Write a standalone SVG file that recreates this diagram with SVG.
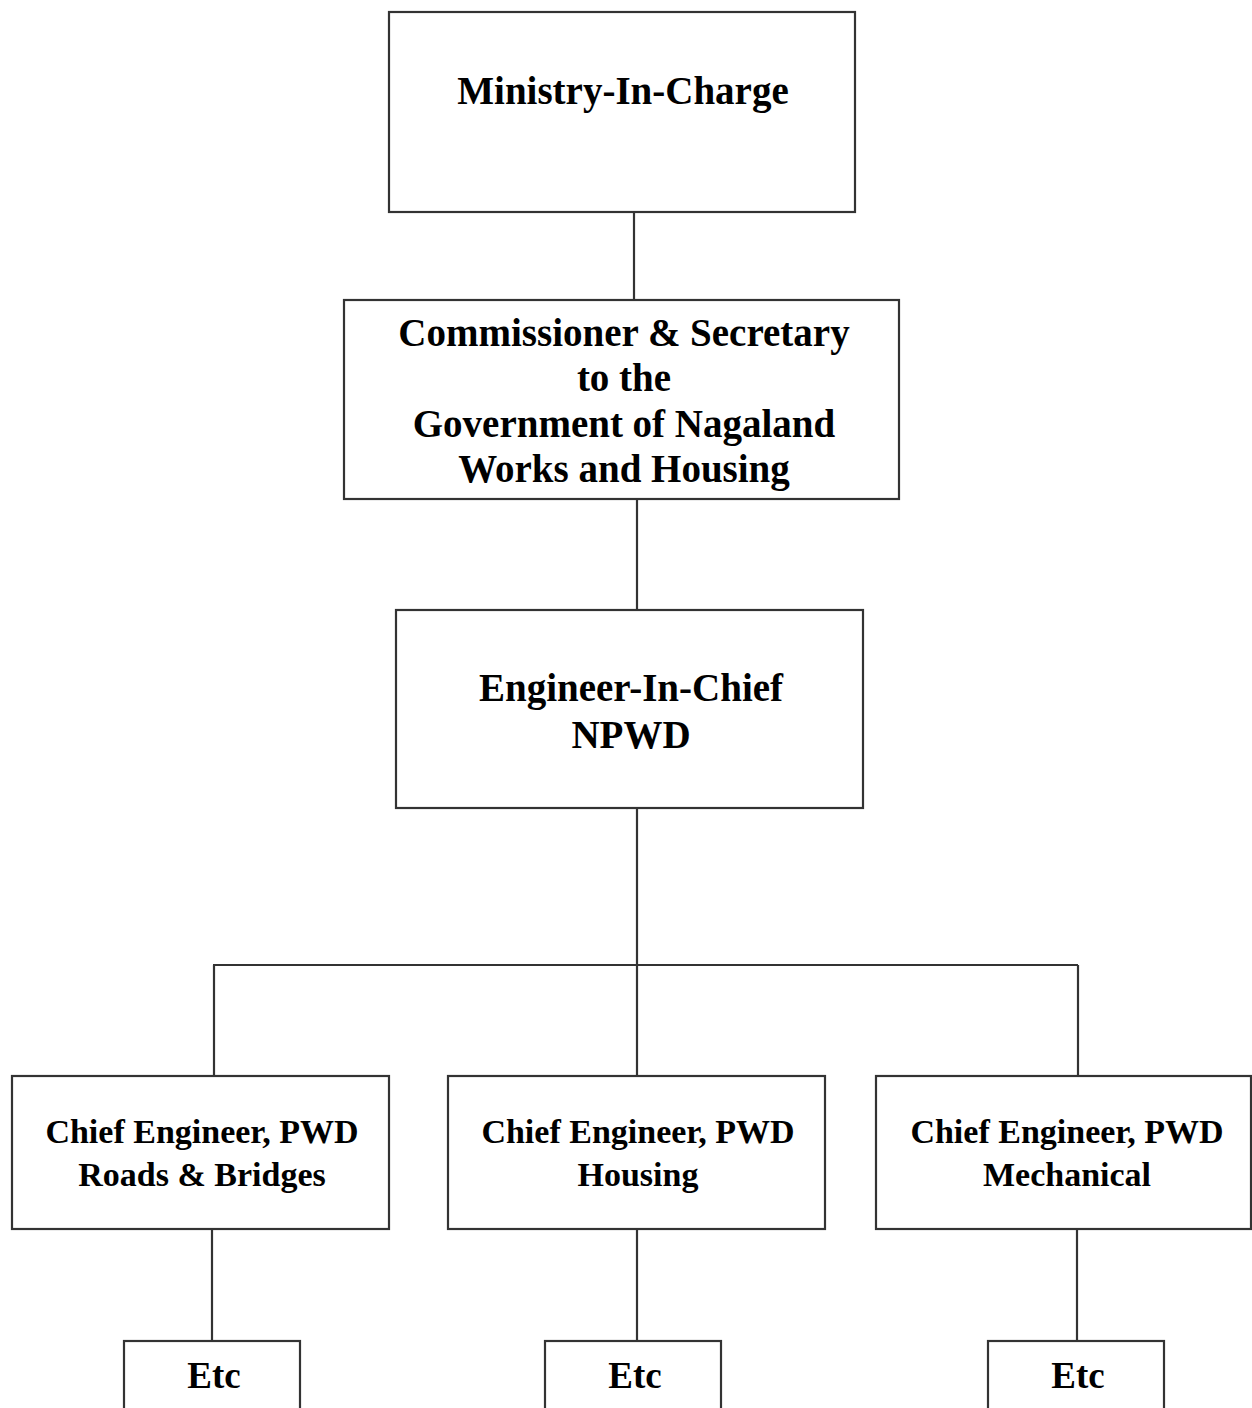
<svg xmlns="http://www.w3.org/2000/svg" width="1252" height="1408" viewBox="0 0 1252 1408">
<style>
.box{fill:#fff;stroke:#333;stroke-width:2.2}
.t{font-family:"Liberation Serif","Times New Roman",serif;font-weight:bold;fill:#000;text-anchor:middle}
.big{font-size:39px}
.mid{font-size:34px}
.etc{font-size:37px}
.conn line{stroke:#333;stroke-width:2.2}
</style>
<rect width="1252" height="1408" fill="#fff"/>
<g id="connectors" class="conn">
<line x1="634" y1="212" x2="634" y2="300"/>
<line x1="637" y1="499" x2="637" y2="610"/>
<line x1="637" y1="808" x2="637" y2="1076"/>
<line x1="213" y1="965" x2="1078" y2="965"/>
<line x1="214" y1="965" x2="214" y2="1076"/>
<line x1="1078" y1="965" x2="1078" y2="1076"/>
<line x1="212" y1="1229" x2="212" y2="1341"/>
<line x1="637" y1="1229" x2="637" y2="1341"/>
<line x1="1077" y1="1229" x2="1077" y2="1341"/>
</g>
<g id="ministry">
<rect class="box" x="389" y="12" width="466" height="200"/>
<text class="t big" x="623" y="104">Ministry-In-Charge</text>
</g>
<g id="commissioner">
<rect class="box" x="344" y="300" width="555" height="199"/>
<text class="t big" x="624" y="346">Commissioner &amp; Secretary</text>
<text class="t big" x="624" y="391">to the</text>
<text class="t big" x="624" y="437">Government of Nagaland</text>
<text class="t big" x="624" y="482">Works and Housing</text>
</g>
<g id="engineer-in-chief">
<rect class="box" x="396" y="610" width="467" height="198"/>
<text class="t big" x="631" y="701">Engineer-In-Chief</text>
<text class="t big" x="631" y="748">NPWD</text>
</g>
<g id="ce-roads">
<rect class="box" x="12" y="1076" width="377" height="153"/>
<text class="t mid" x="202" y="1143">Chief Engineer, PWD</text>
<text class="t mid" x="202" y="1186">Roads &amp; Bridges</text>
</g>
<g id="ce-housing">
<rect class="box" x="448" y="1076" width="377" height="153"/>
<text class="t mid" x="638" y="1143">Chief Engineer, PWD</text>
<text class="t mid" x="638" y="1186">Housing</text>
</g>
<g id="ce-mechanical">
<rect class="box" x="876" y="1076" width="375" height="153"/>
<text class="t mid" x="1067" y="1143">Chief Engineer, PWD</text>
<text class="t mid" x="1067" y="1186">Mechanical</text>
</g>
<g id="etc-1">
<rect class="box" x="124" y="1341" width="176" height="80"/>
<text class="t etc" x="214" y="1388">Etc</text>
</g>
<g id="etc-2">
<rect class="box" x="545" y="1341" width="176" height="80"/>
<text class="t etc" x="635" y="1388">Etc</text>
</g>
<g id="etc-3">
<rect class="box" x="988" y="1341" width="176" height="80"/>
<text class="t etc" x="1078" y="1388">Etc</text>
</g>
</svg>
